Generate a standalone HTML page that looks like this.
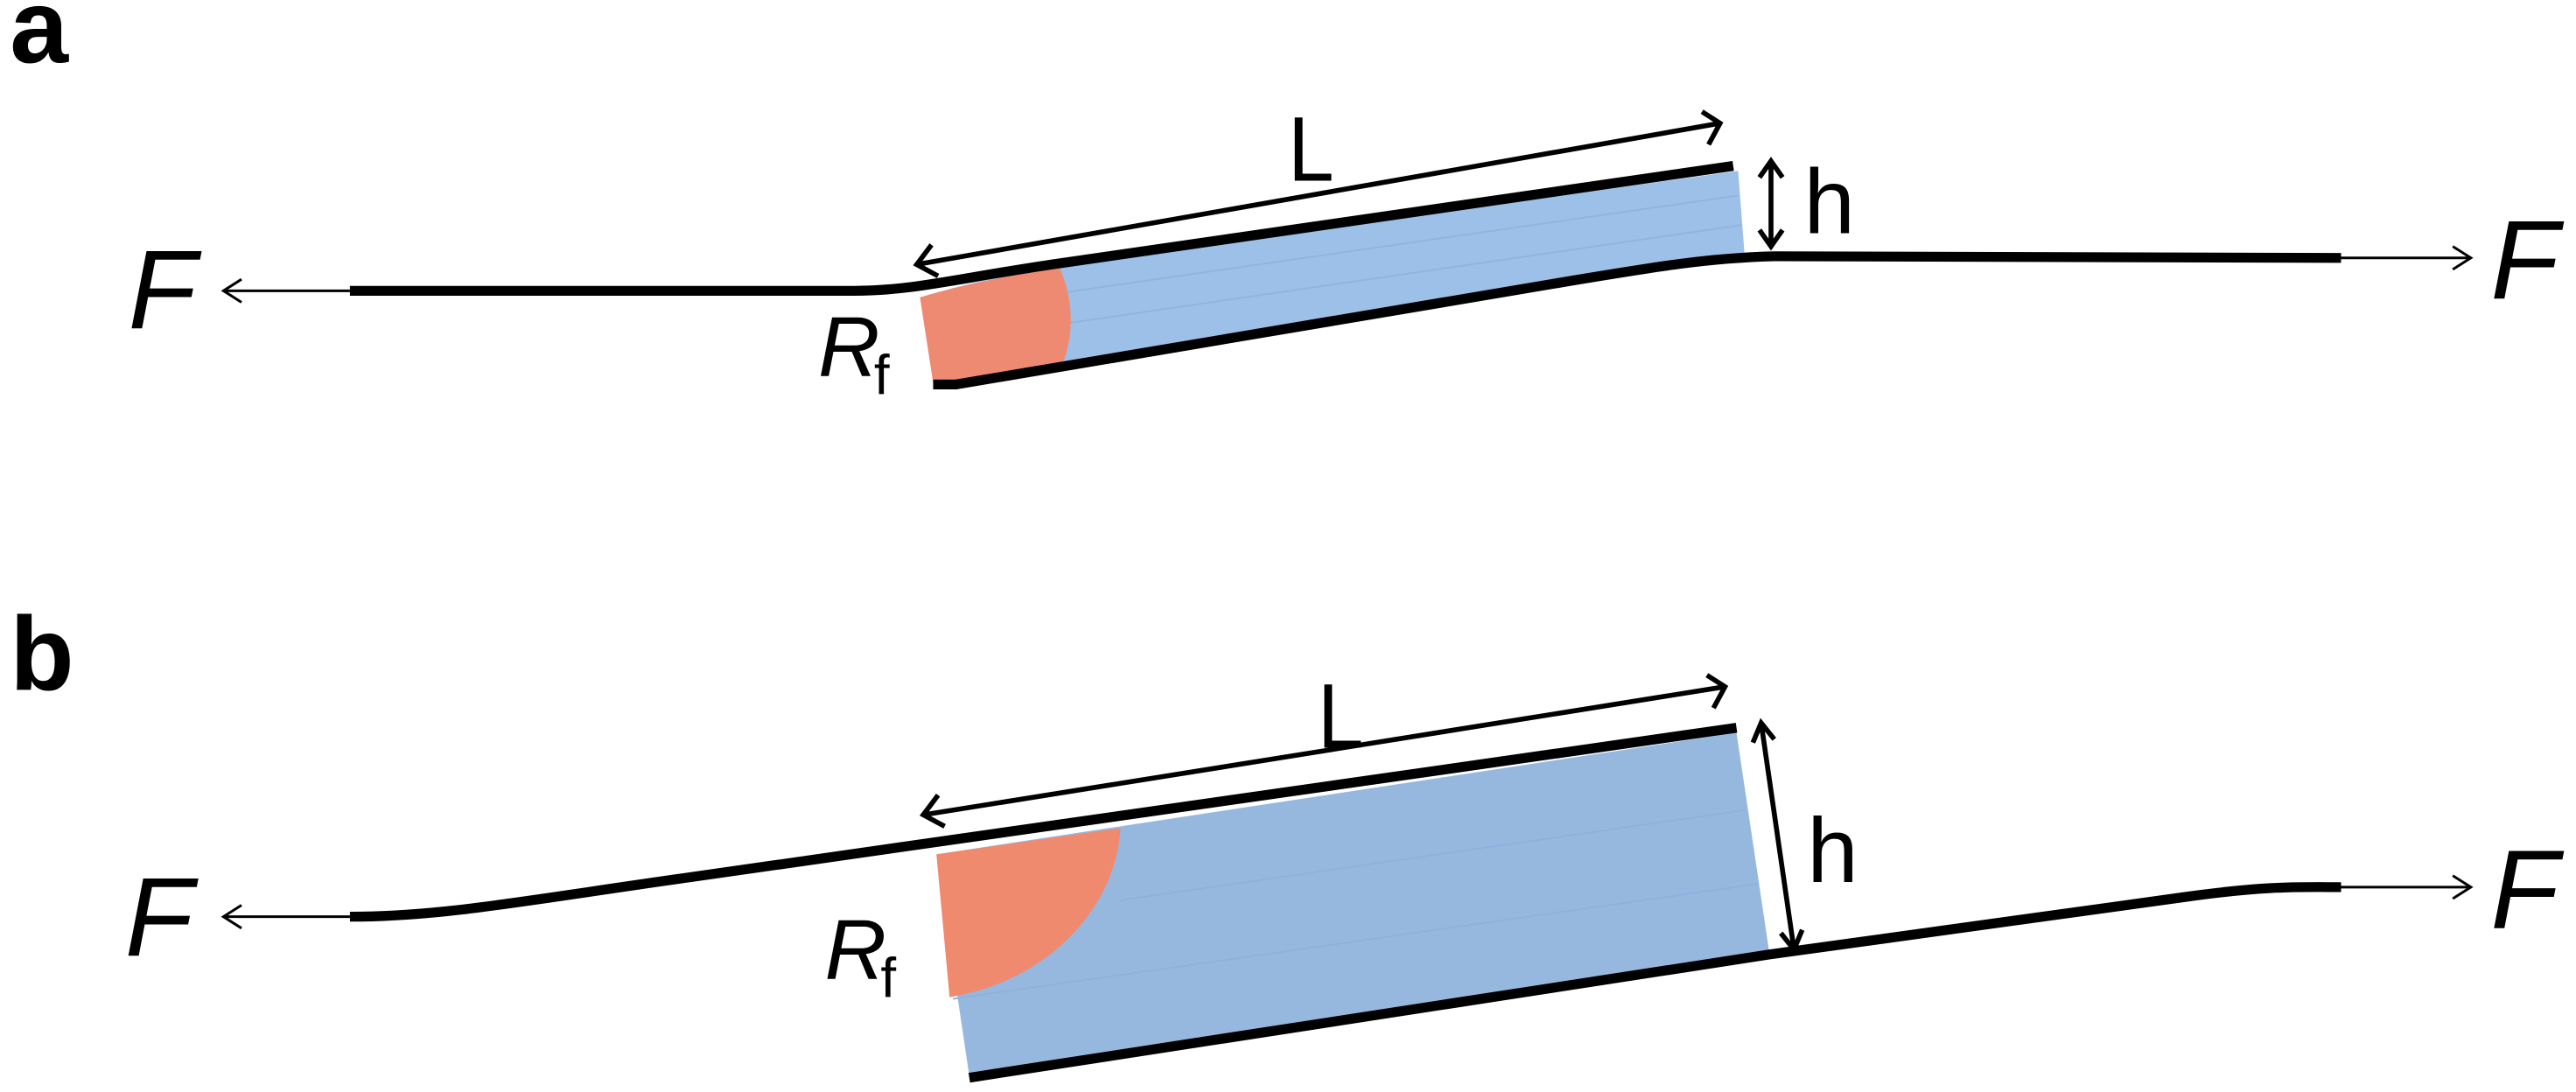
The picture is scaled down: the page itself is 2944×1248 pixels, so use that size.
<!DOCTYPE html>
<html><head><style>html,body{margin:0;padding:0;background:#fff}svg{display:block}</style></head>
<body>
<svg width="2944" height="1248" viewBox="0 0 1568 664.7" preserveAspectRatio="none" xmlns="http://www.w3.org/2000/svg" font-family="Liberation Sans, sans-serif">
<rect width="1568" height="665" fill="#fff"/>
<text x="6" y="38" font-size="64" font-weight="bold">a</text>
<text x="6" y="420" font-size="64" font-weight="bold">b</text>

<!-- Panel a -->
<path d="M560,181 C590,172 615,167 645,162 L1058,104 L1062,156 C1030,158 1000,163 950,172 L580,232 L568,232 Z" fill="#9dc0e8"/>
<path d="M1058,119 L648,178 M1060,137 L648,197" stroke="#8fb4e0" stroke-width="1"/>
<path d="M560,181 C590,172 620,167 645,163 C655,185 653,210 645,225 L568,233 Z" fill="#ef8a72"/>
<path d="M213,177 L520,177 C555,177 580,170 640,161 L1055,101" stroke="#000" stroke-width="6" fill="none"/>
<path d="M568,234 L582,234 L950,172 C1010,162 1040,157 1080,156 L1425,157" stroke="#000" stroke-width="6" fill="none"/>
<path d="M213,177 L136,177 M147,170 L136,177 L147,184" stroke="#000" stroke-width="1.6" fill="none"/>
<path d="M1425,157 L1504,157 M1493,150 L1504,157 L1493,164" stroke="#000" stroke-width="1.6" fill="none"/>
<path d="M558,161 L1047,75 M567,149 L558,161 L571,168 M1036,68 L1047,75 L1040,88" stroke="#000" stroke-width="3" fill="none"/>
<path d="M1078,98 L1078,150 M1071,108 L1078,98 L1085,108 M1071,140 L1078,150 L1085,140" stroke="#000" stroke-width="3" fill="none"/>
<text x="78" y="200" font-size="68" font-style="italic">F</text>
<text x="1516" y="182" font-size="68" font-style="italic">F</text>
<text x="784" y="110" font-size="56" transform="translate(784,0) scale(0.9,1) translate(-784,0)">L</text>
<text x="1098" y="142" font-size="56">h</text>
<text x="498" y="229" font-size="52" font-style="italic">R</text>
<text x="532" y="240" font-size="34">f</text>

<!-- Panel b -->
<path d="M570,520 L1057,446 L1077,580 L590,655 Z" fill="#96b8df"/>
<path d="M682,548 L1063,493 M580,608 L1070,538" stroke="#8fb0dc" stroke-width="1"/>
<path d="M570,520 L682,504 C680,550 640,597 578,607 Z" fill="#ef8a6f"/>
<path d="M213,558 C270,558 320,548 420,534 L1057,443" stroke="#000" stroke-width="6" fill="none"/>
<path d="M590,656 L1077,581 L1330,546 C1380,539 1400,540 1425,540" stroke="#000" stroke-width="6" fill="none"/>
<path d="M213,558 L136,558 M147,551 L136,558 L147,565" stroke="#000" stroke-width="1.6" fill="none"/>
<path d="M1425,540 L1504,540 M1493,533 L1504,540 L1493,547" stroke="#000" stroke-width="1.6" fill="none"/>
<path d="M562,496 L1050,418 M571,484 L562,496 L575,503 M1039,411 L1050,418 L1043,431" stroke="#000" stroke-width="3" fill="none"/>
<path d="M1072,440 L1092,578 M1067,452 L1072,440 L1080,450 M1084,568 L1092,578 L1097,566" stroke="#000" stroke-width="3" fill="none"/>
<text x="76" y="582" font-size="68" font-style="italic">F</text>
<text x="1516" y="565" font-size="68" font-style="italic">F</text>
<text x="802" y="455" font-size="56" transform="translate(802,0) scale(0.9,1) translate(-802,0)">L</text>
<text x="1100" y="537" font-size="56">h</text>
<text x="502" y="596" font-size="52" font-style="italic">R</text>
<text x="536" y="607" font-size="34">f</text>
</svg>
</body></html>
